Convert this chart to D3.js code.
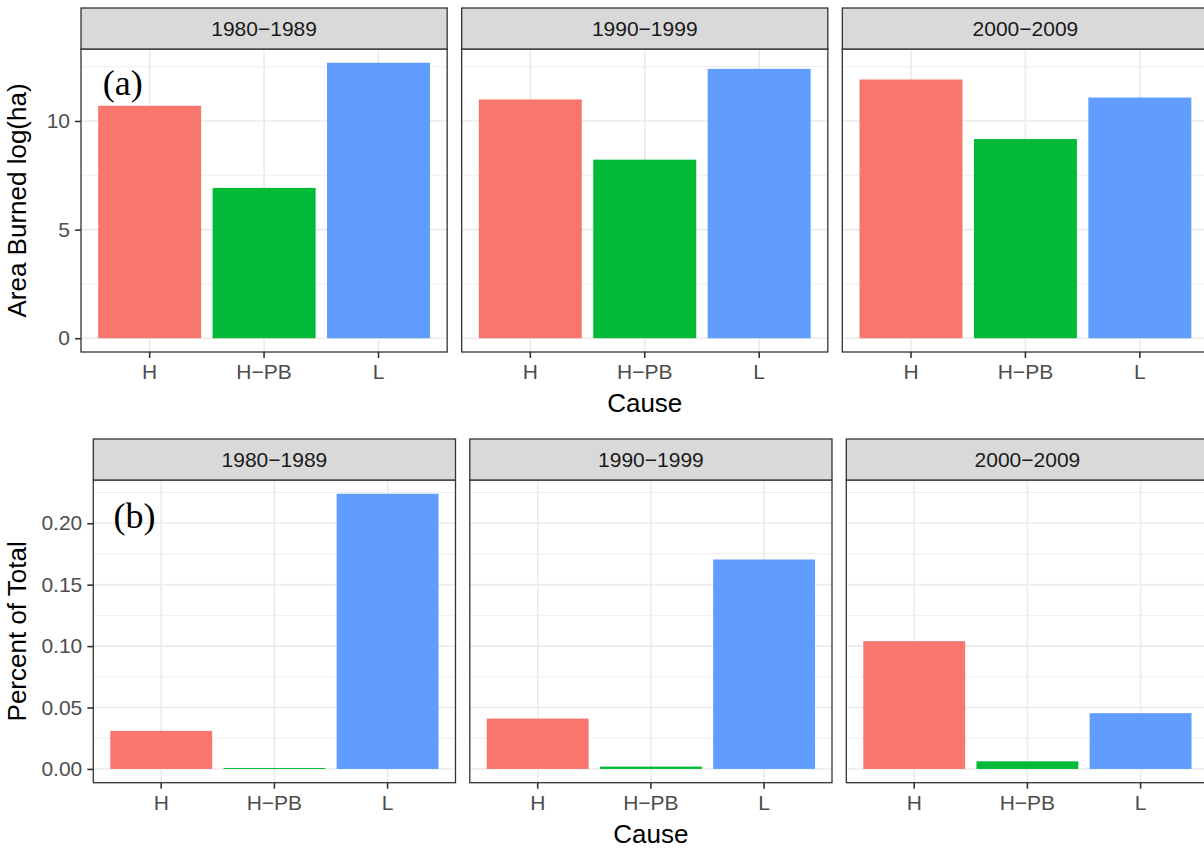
<!DOCTYPE html>
<html>
<head>
<meta charset="utf-8">
<script src="https://cdn.jsdelivr.net/npm/d3@7"></script>
<style>
  html, body { margin: 0; padding: 0; background: #ffffff; }
  svg { display: block; }
</style>
</head>
<body>
<svg id="chart" width="1204" height="848"></svg>
<script>
// Fire causes and decades (facets)
const causes = ["H", "H−PB", "L"];
const decades = ["1980−1989", "1990−1999", "2000−2009"];
const causeColors = ["#F8766D", "#00BA38", "#619CFF"];

// (a) Area burned, log(ha), per decade
const areaH   = [10.70, 10.99, 11.91];
const areaHPB = [6.92, 8.22, 9.17];
const areaL   = [12.68, 12.40, 11.08];

// (b) Share of total, per decade
const pctH   = [0.031, 0.041, 0.104];
const pctHPB = [0.0008, 0.0019, 0.0062];
const pctL   = [0.224, 0.1705, 0.0454];

// Axis ticks
const areaTicks = [0, 5, 10];
const areaMinor = [2.5, 7.5, 12.5];
const pctTicks = [0, 0.05, 0.10, 0.15, 0.20];
const pctMinor = [0.025, 0.075, 0.125, 0.175, 0.225];

const svg = d3.select("#chart");
const FONT = "'Liberation Sans', Arial, Helvetica, sans-serif";
const TICK_SIZE = 21;
const TITLE_SIZE = 26;

function drawRow(cfg) {
  const series = [cfg.h, cfg.hpb, cfg.l];
  const rowData = decades.map((dec, i) => ({
    decade: dec,
    bars: causes.map((c, j) => ({ cause: c, value: series[j][i], color: causeColors[j] }))
  }));

  const maxV = d3.max(series.flat());
  const pad = maxV * 0.05;
  const y = d3.scaleLinear()
    .domain([-pad, maxV + pad])
    .range([cfg.panelBottom, cfg.stripBottom]);

  const panelW = (cfg.right - cfg.left - 2 * cfg.gap) / 3;
  const panelX = d => cfg.left + decades.indexOf(d) * (panelW + cfg.gap);

  rowData.forEach((pd, pi) => {
    const x0 = panelX(pd.decade);
    const x = d3.scaleBand().domain(causes).range([x0, x0 + panelW])
      .paddingInner(0.1).paddingOuter(0.15);
    const g = svg.append("g");

    // panel background
    g.append("rect").attr("x", x0).attr("y", cfg.stripBottom)
      .attr("width", panelW).attr("height", cfg.panelBottom - cfg.stripBottom)
      .attr("fill", "#ffffff");

    // minor gridlines
    g.selectAll(".minor").data(cfg.minor).enter().append("line")
      .attr("x1", x0).attr("x2", x0 + panelW)
      .attr("y1", d => y(d)).attr("y2", d => y(d))
      .attr("stroke", "#EBEBEB").attr("stroke-width", 0.8);
    // major gridlines
    g.selectAll(".major").data(cfg.ticks).enter().append("line")
      .attr("x1", x0).attr("x2", x0 + panelW)
      .attr("y1", d => y(d)).attr("y2", d => y(d))
      .attr("stroke", "#EBEBEB").attr("stroke-width", 1.6);
    g.selectAll(".vmajor").data(causes).enter().append("line")
      .attr("x1", d => x(d) + x.bandwidth() / 2).attr("x2", d => x(d) + x.bandwidth() / 2)
      .attr("y1", cfg.stripBottom).attr("y2", cfg.panelBottom)
      .attr("stroke", "#EBEBEB").attr("stroke-width", 1.6);

    // bars
    g.selectAll(".bar").data(pd.bars).enter().append("rect")
      .attr("x", d => x(d.cause))
      .attr("width", x.bandwidth())
      .attr("y", d => y(d.value))
      .attr("height", d => y(0) - y(d.value))
      .attr("fill", d => d.color);

    // panel border
    g.append("rect").attr("x", x0).attr("y", cfg.stripBottom)
      .attr("width", panelW).attr("height", cfg.panelBottom - cfg.stripBottom)
      .attr("fill", "none").attr("stroke", "#333333").attr("stroke-width", 1.3);

    // strip
    g.append("rect").attr("x", x0).attr("y", cfg.stripTop)
      .attr("width", panelW).attr("height", cfg.stripBottom - cfg.stripTop)
      .attr("fill", "#D9D9D9").attr("stroke", "#333333").attr("stroke-width", 1.3);
    g.append("text")
      .attr("x", x0 + panelW / 2).attr("y", (cfg.stripTop + cfg.stripBottom) / 2)
      .attr("dy", "0.36em").attr("text-anchor", "middle")
      .attr("font-family", FONT).attr("font-size", TICK_SIZE).attr("fill", "#1A1A1A")
      .text(pd.decade);

    // x axis
    const xAxis = g.append("g").attr("transform", `translate(0,${cfg.panelBottom})`)
      .call(d3.axisBottom(x).tickSize(6).tickPadding(6));
    xAxis.select(".domain").remove();
    xAxis.selectAll(".tick line").attr("stroke", "#333333").attr("stroke-width", 1.6);
    xAxis.selectAll(".tick text").attr("font-family", FONT).attr("font-size", TICK_SIZE)
      .attr("fill", "#4D4D4D");

    // y axis on the first panel only
    if (pi === 0) {
      const yAxis = g.append("g").attr("transform", `translate(${x0},0)`)
        .call(d3.axisLeft(y).tickValues(cfg.ticks).tickFormat(cfg.fmt).tickSize(6).tickPadding(5));
      yAxis.select(".domain").remove();
      yAxis.selectAll(".tick line").attr("stroke", "#333333").attr("stroke-width", 1.6);
      yAxis.selectAll(".tick text").attr("font-family", FONT).attr("font-size", TICK_SIZE)
        .attr("fill", "#4D4D4D");

      // panel tag
      g.append("text")
        .attr("x", x(causes[0]) + x.step() * cfg.tag.dx)
        .attr("y", y(cfg.tag.y))
        .attr("dy", "0.33em")
        .attr("text-anchor", "middle")
        .attr("font-family", "'Liberation Serif', 'Times New Roman', serif")
        .attr("font-size", 36).attr("fill", "#000000")
        .text(cfg.tag.text);
    }
  });

  // axis titles
  const ymid = (cfg.stripBottom + cfg.panelBottom) / 2;
  svg.append("text")
    .attr("transform", `translate(${cfg.yTitleX},${ymid}) rotate(-90)`)
    .attr("text-anchor", "middle")
    .attr("font-family", FONT).attr("font-size", TITLE_SIZE).attr("fill", "#000000")
    .text(cfg.yTitle);
  svg.append("text")
    .attr("x", (cfg.left + cfg.right) / 2).attr("y", cfg.xTitleY)
    .attr("text-anchor", "middle")
    .attr("font-family", FONT).attr("font-size", TITLE_SIZE).attr("fill", "#000000")
    .text("Cause");
}

drawRow({
  h: areaH, hpb: areaHPB, l: areaL,
  ticks: areaTicks, minor: areaMinor, fmt: d3.format("d"),
  left: 81, right: 1208.5, gap: 14.5,
  stripTop: 8, stripBottom: 49, panelBottom: 352,
  yTitle: "Area Burned log(ha)", yTitleX: 26, xTitleY: 412,
  tag: { text: "(a)", dx: 0.215, y: 11.75 }
});

drawRow({
  h: pctH, hpb: pctHPB, l: pctL,
  ticks: pctTicks, minor: pctMinor, fmt: d3.format(".2f"),
  left: 93.3, right: 1208.5, gap: 14.3,
  stripTop: 439, stripBottom: 480, panelBottom: 782.7,
  yTitle: "Percent of Total", yTitleX: 26, xTitleY: 843,
  tag: { text: "(b)", dx: 0.215, y: 0.2055 }
});
</script>
</body>
</html>
